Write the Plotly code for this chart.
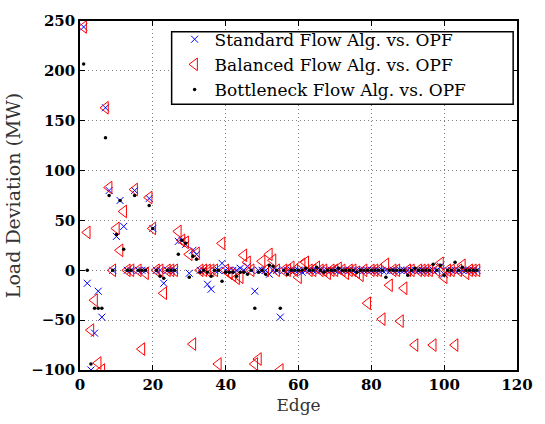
import plotly.graph_objects as go

edges = list(range(1, 110))

standard = [
    244, -13, -100, -63, -21, -47, 163, 80, 0, 34,      # 1-10
    70, 44, 0, 0, 80, 0, 0, 0, 72, 42,                  # 11-20
    0, 0, -13, 0, 0, 0, 29, 30, 26, -3,                 # 21-30
    20, 16, 0, 0, -14, -19, 0, 0, 7, 0,                 # 31-40
    0, 0, 0, 2, 0, 4, 0, -21, 0, 0,                     # 41-50
    0, -4, 0, 0, -47, 0, 0, 0, 0, 0,                    # 51-60
    -2, 0, 0, 0, 0, 0, 0, 0, 0, 0,                      # 61-70
    0, 0, 0, 0, 0, 0, 0, 0, 0, 0,                       # 71-80
    0, 0, 0, 0, -1, 0, 0, 0, 0, 0,                      # 81-90
    0, 0, 0, 0, 0, 0, 0, 0, 4, -4,                      # 91-100
    0, 0, 0, 0, 0, 0, 0, 0, 0,                          # 101-109
]

balanced = [
    244, 38, -60, -30, -93, -100, 163, 83, 0, 42,       # 1-10
    20, 59, 0, 0, 81, 0, -79, -3, 73, 42,               # 11-20
    0, 0, -23, 0, 0, 0, 39, 30, 28, 16,                 # 21-30
    -74, 17, 0, 0, 0, 0, 0, -94, 27, 0,                 # 31-40
    -3, -5, -8, -7, 15, 8, 0, -94, -89, 9,              # 41-50
    0, 16, 10, 0, -100, 0, 0, 3, 0, -7,                 # 51-60
    6, 8, 0, 0, 3, 0, 0, -3, 0, 0,                      # 61-70
    2, 0, -3, 0, 0, -2, -5, 0, -33, 0,                  # 71-80
    0, 0, -49, 6, -15, 0, 0, -51, -18, 0,               # 81-90
    0, -75, 0, 0, 0, 0, -75, 0, 7, -7,                  # 91-100
    0, 0, -75, 0, 5, -3, 0, 0, 0,                       # 101-109
]

bottleneck = [
    207, 0, -94, -38, -38, -38, 133, 75, 0, 36,         # 1-10
    70, 21, 0, 0, 75, 0, 0, 0, 65, 42,                  # 11-20
    0, -6, -8, 0, 0, 0, 16, 30, 27, -7,                 # 21-30
    14, 11, -2, 0, -2, -6, 0, 0, -11, -2,               # 31-40
    -2, -2, -6, -2, -2, -4, 0, -38, -2, 0,              # 41-50
    -4, 5, 4, 0, -38, 0, -4, 0, 0, 0,                   # 51-60
    0, 2, 0, 0, 3, 0, -2, 0, 0, 0,                      # 61-70
    2, 0, 0, 0, 0, -2, 0, 0, 0, 0,                      # 71-80
    0, 0, 0, -7, 0, 0, 0, 0, 0, -5,                     # 81-90
    0, 2, 0, 0, 0, 0, 6, 0, 5, -5,                      # 91-100
    0, 0, 8, 0, 3, 0, 0, 0, 0,                          # 101-109
]

series_names = [
    "Standard Flow Alg. vs. OPF",
    "Balanced Flow Alg. vs. OPF",
    "Bottleneck Flow Alg. vs. OPF",
]

x_ticks = [0, 20, 40, 60, 80, 100, 120]
y_ticks = [-100, -50, 0, 50, 100, 150, 200, 250]
y_tick_labels = ["\u2212100", "\u221250", "0", "50", "100", "150", "200", "250"]

SERIF = "DejaVu Serif"

fig = go.Figure()
fig.add_trace(go.Scatter(
    x=edges, y=standard, mode="markers", name=series_names[0],
    marker=dict(symbol="x-thin", size=7, color="#0000ff",
                line=dict(color="#0000ff", width=1)),
))
fig.add_trace(go.Scatter(
    x=edges, y=balanced, mode="markers", name=series_names[1],
    marker=dict(symbol="triangle-left-open", size=11, color="#ff0000",
                line=dict(color="#ff0000", width=1)),
))
fig.add_trace(go.Scatter(
    x=edges, y=bottleneck, mode="markers", name=series_names[2],
    marker=dict(symbol="circle", size=3.5, color="#000000",
                line=dict(width=0)),
))

axis_common = dict(
    showline=True, linecolor="black", linewidth=1.5, mirror="ticks",
    ticks="inside", ticklen=5, tickcolor="black", tickwidth=1,
    showgrid=True, gridcolor="#808080", gridwidth=1, griddash="1px,3px",
    zeroline=False,
    tickfont=dict(family=SERIF, size=15, color="black", weight="bold"),
)

fig.update_xaxes(
    range=[0, 120], tickmode="array", tickvals=x_ticks,
    ticktext=[str(v) for v in x_ticks],
    title=dict(text="Edge", font=dict(family=SERIF, size=17, color="#333"),
               standoff=6),
    **axis_common,
)
fig.update_yaxes(
    range=[-100, 250], tickmode="array", tickvals=y_ticks,
    ticktext=y_tick_labels,
    title=dict(text="Load Deviation (MW)",
               font=dict(family=SERIF, size=19, color="#333"), standoff=6),
    **axis_common,
)

# legend frame (drawn as a paper-anchored rectangle behind the legend entries)
fig.add_shape(
    type="rect", xref="paper", yref="paper",
    x0=0.2097, x1=0.9912, y0=0.7612, y1=0.969,
    fillcolor="white", line=dict(color="black", width=1.5), layer="above",
)

fig.update_layout(
    width=545, height=424,
    margin=dict(l=72, r=20, t=17, b=51),
    paper_bgcolor="white", plot_bgcolor="white",
    showlegend=True,
    legend=dict(
        x=0.2165, y=0.998, xanchor="left", yanchor="top",
        bgcolor="rgba(0,0,0,0)", borderwidth=0,
        font=dict(family=SERIF, size=17, color="black"),
        tracegroupgap=0,
    ),
)

fig.write_html("out.html")
